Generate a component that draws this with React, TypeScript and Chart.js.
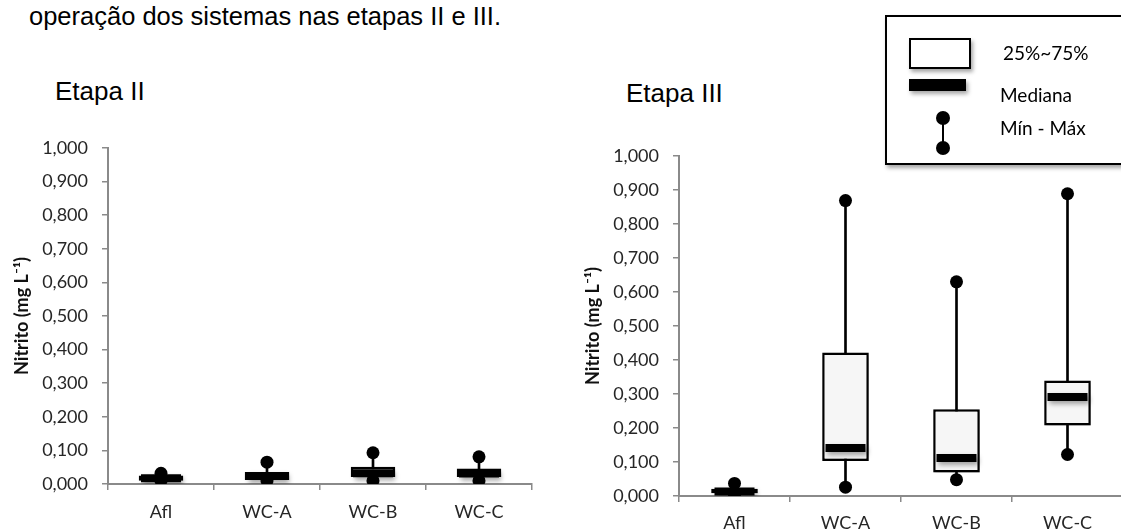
import React, { useEffect, useRef } from "react";
import { Chart, registerables } from "chart.js";

Chart.register(...registerables);

// ---------- data ----------
const categories = ["Afl", "WC-A", "WC-B", "WC-C"];
const yTickLabels = ["0,000", "0,100", "0,200", "0,300", "0,400", "0,500", "0,600", "0,700", "0,800", "0,900", "1,000"];

// Etapa II
const stage2Min = [0.010, 0.010, 0.010, 0.010];
const stage2Q1 = [0.010, 0.012, 0.021, 0.021];
const stage2Median = [0.017, 0.024, 0.032, 0.031];
const stage2Q3 = [0.025, 0.036, 0.051, 0.046];
const stage2Max = [0.032, 0.065, 0.093, 0.081];

// Etapa III
const stage3Min = [0.004, 0.026, 0.048, 0.122];
const stage3Q1 = [0.008, 0.103, 0.069, 0.207];
const stage3Median = [0.013, 0.141, 0.112, 0.291];
const stage3Q3 = [0.021, 0.422, 0.255, 0.340];
const stage3Max = [0.037, 0.869, 0.630, 0.889];

const AXIS_COLOR = "#8a8a8a";
const FONT = "Lato, 'Open Sans', sans-serif";

const shadowPlugin = {
  id: "boxShadow",
  beforeDatasetDraw(chart: any, args: any) {
    const ds = chart.data.datasets[args.index];
    if (ds.shadow) {
      const ctx = chart.ctx;
      ctx.save();
      ctx.shadowColor = "rgba(0,0,0,0.35)";
      ctx.shadowBlur = 5;
      ctx.shadowOffsetX = 2;
      ctx.shadowOffsetY = 3;
    }
  },
  afterDatasetDraw(chart: any, args: any) {
    const ds = chart.data.datasets[args.index];
    if (ds.shadow) chart.ctx.restore();
  },
};

type BoxProps = {
  left: number;
  top: number;
  width: number;
  height: number;
  padTop: number;
  padRight: number;
  xHeight: number;
  xPad: number;
  mins: number[];
  q1: number[];
  medians: number[];
  q3: number[];
  maxs: number[];
};

function BoxChart(p: BoxProps) {
  const ref = useRef<HTMLCanvasElement>(null);
  useEffect(() => {
    const chart = new Chart(ref.current as HTMLCanvasElement, {
      type: "bar",
      data: {
        labels: categories,
        datasets: [
          {
            type: "line",
            label: "max",
            data: p.maxs,
            showLine: false,
            pointRadius: 6.5,
            pointStyle: "circle",
            pointBackgroundColor: "#000",
            pointBorderColor: "#000",
            pointBorderWidth: 0,
          } as any,
          {
            type: "line",
            label: "min",
            data: p.mins,
            showLine: false,
            pointRadius: 6.5,
            pointStyle: "circle",
            pointBackgroundColor: "#000",
            pointBorderColor: "#000",
            pointBorderWidth: 0,
          } as any,
          {
            type: "line",
            label: "median",
            data: p.medians,
            showLine: false,
            pointStyle: "line",
            pointRadius: 20,
            pointBorderColor: "#000",
            pointBorderWidth: 8,
            shadow: true,
          } as any,
          {
            type: "bar",
            label: "box",
            data: categories.map((_, i) => [p.q1[i], p.q3[i]]),
            backgroundColor: "#f6f6f6",
            borderColor: "#000",
            borderWidth: 2.5,
            borderSkipped: false,
            grouped: false,
            barPercentage: 0.42,
            categoryPercentage: 1,
            shadow: true,
          } as any,
          {
            type: "bar",
            label: "whisker",
            data: categories.map((_, i) => [p.mins[i], p.maxs[i]]),
            backgroundColor: "#000",
            borderWidth: 0,
            grouped: false,
            barThickness: 2,
          } as any,
        ],
      },
      options: {
        animation: false,
        responsive: false,
        maintainAspectRatio: false,
        layout: { padding: { top: p.padTop, right: p.padRight, bottom: 0, left: 0 } },
        plugins: {
          legend: { display: false },
          tooltip: { enabled: false },
        },
        scales: {
          x: {
            type: "category",
            offset: true,
            grid: {
              display: true,
              offset: true,
              drawOnChartArea: false,
              drawTicks: true,
              tickLength: 6,
              color: AXIS_COLOR,
              lineWidth: 1.5,
            },
            border: { display: true, color: AXIS_COLOR, width: 2 },
            ticks: {
              color: "#262626",
              font: { family: FONT, size: 18 },
              padding: p.xPad,
              maxRotation: 0,
            },
            afterFit: (s: any) => {
              s.height = p.xHeight;
            },
          },
          y: {
            min: 0,
            max: 1,
            ticks: {
              stepSize: 0.1,
              color: "#262626",
              font: { family: FONT, size: 18 },
              padding: 14,
              callback: (_v: any, i: number) => yTickLabels[i],
            },
            grid: {
              display: true,
              drawOnChartArea: false,
              drawTicks: true,
              tickLength: 6,
              color: AXIS_COLOR,
              lineWidth: 1.5,
            },
            border: { display: true, color: AXIS_COLOR, width: 2 },
            title: {
              display: true,
              text: "Nitrito (mg L\u207B\u00B9)",
              color: "#111",
              font: { family: FONT, size: 18, weight: "bold" },
              padding: { top: 11, bottom: 0 },
            },
            afterFit: (s: any) => {
              s.width = 108;
            },
          },
        },
      } as any,
      plugins: [shadowPlugin as any],
    });
    return () => chart.destroy();
  }, []);
  return (
    <canvas
      ref={ref}
      width={p.width}
      height={p.height}
      style={{ position: "absolute", left: p.left, top: p.top, width: p.width, height: p.height }}
    />
  );
}

function Txt(props: { x: number; cy: number; size: number; family: string; children: React.ReactNode; color?: string }) {
  const h = 40;
  return (
    <div
      style={{
        position: "absolute",
        left: props.x,
        top: props.cy - h / 2,
        height: h,
        lineHeight: h + "px",
        fontSize: props.size,
        fontFamily: props.family,
        color: props.color || "#000",
        whiteSpace: "nowrap",
      }}
    >
      {props.children}
    </div>
  );
}

const ARIAL = "'Liberation Sans', Arial, sans-serif";

export default function App() {
  return (
    <div
      style={{
        position: "fixed",
        left: 0,
        top: 0,
        width: 1121,
        height: 531,
        overflow: "hidden",
        background: "#fff",
      }}
    >
      <Txt x={29} cy={16} size={25.5} family={ARIAL}>
        operação dos sistemas nas etapas II e III.
      </Txt>
      <Txt x={55} cy={91} size={26} family={ARIAL}>
        Etapa II
      </Txt>
      <Txt x={626} cy={93} size={26} family={ARIAL}>
        Etapa III
      </Txt>

      <BoxChart
        left={0}
        top={120}
        width={560}
        height={411}
        padTop={23}
        padRight={12}
        xHeight={47}
        xPad={11}
        mins={stage2Min}
        q1={stage2Q1}
        medians={stage2Median}
        q3={stage2Q3}
        maxs={stage2Max}
      />
      <BoxChart
        left={571}
        top={120}
        width={580}
        height={411}
        padTop={36}
        padRight={20}
        xHeight={35}
        xPad={10}
        mins={stage3Min}
        q1={stage3Q1}
        medians={stage3Median}
        q3={stage3Q3}
        maxs={stage3Max}
      />

      {/* legend */}
      <div
        style={{
          position: "absolute",
          left: 885,
          top: 15,
          width: 260,
          height: 150,
          boxSizing: "border-box",
          border: "2px solid #000",
          background: "#fff",
          boxShadow: "2px 3px 4px rgba(0,0,0,0.35)",
        }}
      />
      <div
        style={{
          position: "absolute",
          left: 909,
          top: 38,
          width: 62,
          height: 31,
          boxSizing: "border-box",
          border: "2px solid #000",
          background: "#fff",
          boxShadow: "2px 3px 4px rgba(0,0,0,0.35)",
        }}
      />
      <div
        style={{
          position: "absolute",
          left: 909,
          top: 79,
          width: 57,
          height: 12,
          background: "#000",
          boxShadow: "2px 3px 4px rgba(0,0,0,0.35)",
        }}
      />
      <div style={{ position: "absolute", left: 942, top: 118, width: 1.5, height: 30, background: "#000" }} />
      <div style={{ position: "absolute", left: 936, top: 111, width: 14, height: 14, borderRadius: "50%", background: "#000" }} />
      <div style={{ position: "absolute", left: 936, top: 141, width: 14, height: 14, borderRadius: "50%", background: "#000" }} />
      <Txt x={1003} cy={53} size={19} family={FONT}>
        25%~75%
      </Txt>
      <Txt x={1000} cy={95} size={19} family={FONT}>
        Mediana
      </Txt>
      <Txt x={1000} cy={128} size={19} family={FONT}>
        Mín - Máx
      </Txt>
    </div>
  );
}
